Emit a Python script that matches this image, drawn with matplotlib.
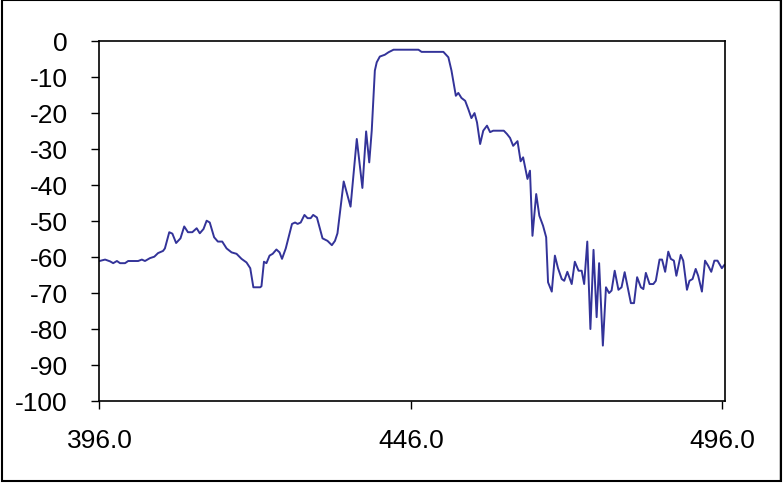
import matplotlib
matplotlib.use('Agg')
import matplotlib.pyplot as plt
from matplotlib.patches import Rectangle

wavelength = [
    396.0, 396.9, 397.7, 398.2, 398.8, 399.3, 400.1, 400.6, 402.2, 402.8,
    403.3, 404.1, 404.8, 405.4, 406.2, 406.5, 407.2, 407.7, 408.3, 409.0,
    409.6, 410.2, 410.9, 411.6, 412.1, 412.7, 413.2, 413.7, 414.4, 415.0,
    415.7, 416.4, 417.2, 418.0, 418.8, 419.6, 420.2, 420.7, 421.8, 422.0,
    422.4, 422.8, 423.3, 423.8, 424.4, 424.9, 425.3, 425.9, 426.9, 427.4,
    427.8, 428.3, 428.9, 429.4, 429.9, 430.3, 430.9, 431.8, 432.6, 433.3,
    433.8, 434.2, 435.2, 436.3, 437.3, 438.2, 438.8, 439.3, 439.7, 440.2,
    440.5, 441.0, 441.8, 442.4, 443.2, 447.2, 447.7, 451.2, 452.0, 452.5,
    453.2, 453.6, 454.1, 454.7, 455.2, 455.7, 456.2, 456.6, 457.1, 457.6,
    458.2, 458.7, 459.2, 460.9, 461.4, 461.9, 462.4, 463.1, 463.6, 464.0,
    464.7, 465.1, 465.5, 466.1, 466.6, 467.2, 467.7, 468.0, 468.6, 469.1,
    469.6, 470.2, 470.6, 471.1, 471.8, 472.3, 472.9, 473.4, 473.8, 474.3,
    474.8, 475.3, 475.8, 476.2, 476.8, 477.3, 477.8, 478.2, 478.7, 479.3,
    479.8, 480.3, 481.3, 481.8, 482.3, 482.9, 483.3, 483.7, 484.3, 484.9,
    485.3, 485.9, 486.3, 486.8, 487.3, 487.7, 488.2, 488.6, 489.3, 489.7,
    490.3, 490.7, 491.2, 491.7, 492.1, 492.7, 493.2, 493.7, 494.2, 494.7,
    495.2, 495.9, 496.3,
]

level_db = [
    -61.2, -60.8, -61.3, -61.8, -61.2, -61.8, -61.8, -61.2, -61.2, -60.8,
    -61.2, -60.4, -60.0, -59.0, -58.4, -57.7, -53.2, -53.6, -56.2, -54.9,
    -51.6, -53.2, -53.2, -52.1, -53.5, -52.3, -50.0, -50.5, -54.6, -55.8,
    -55.8, -57.7, -58.8, -59.2, -60.6, -61.6, -63.2, -68.5, -68.5, -68.2,
    -61.4, -61.8, -59.7, -59.2, -58.0, -58.8, -60.6, -57.7, -50.9, -50.5,
    -50.9, -50.5, -48.4, -49.3, -49.3, -48.4, -49.1, -54.9, -55.6, -56.8,
    -55.6, -53.5, -39.1, -46.1, -27.3, -40.9, -25.2, -33.8, -25.0, -8.3,
    -6.0, -4.4, -3.9, -3.2, -2.5, -2.5, -3.1, -3.1, -4.6, -8.3,
    -15.3, -14.5, -15.9, -16.7, -19.0, -21.5, -20.1, -22.7, -28.7, -25.0,
    -23.6, -25.4, -25.0, -25.0, -25.9, -27.0, -29.2, -27.9, -33.5, -32.4,
    -38.4, -36.1, -54.2, -42.6, -48.6, -51.4, -54.6, -67.1, -69.7, -59.7,
    -63.2, -66.2, -66.7, -64.2, -67.6, -61.4, -63.9, -63.9, -67.6, -55.8,
    -80.1, -58.1, -76.8, -61.8, -84.7, -68.5, -70.1, -69.4, -63.9, -69.2,
    -68.5, -64.3, -72.9, -72.9, -65.7, -68.5, -69.0, -64.5, -67.6, -67.6,
    -66.7, -60.8, -60.8, -64.2, -58.6, -60.6, -61.1, -65.3, -59.5, -61.1,
    -69.2, -66.7, -66.2, -63.4, -65.3, -69.7, -61.1, -62.5, -64.2, -61.1,
    -61.1, -63.2, -62.3,
]

x_ticks = [396.0, 446.0, 496.0]
y_ticks = list(range(-100, 1, 10))

plt.rcParams['font.family'] = ['Liberation Sans Narrow', 'Liberation Sans', 'DejaVu Sans']

fig = plt.figure(figsize=(7.84, 4.85), dpi=100)
ax = fig.add_axes([0.1269, 0.1718, 0.7978, 0.7422])

ax.plot(wavelength, level_db, color='#333399', linewidth=1.4)

ax.set_xlim(396.0, 496.4)
ax.set_ylim(-100, 0)
ax.set_xticks(x_ticks)
ax.set_xticklabels(['%.1f' % t for t in x_ticks])
ax.set_yticks(y_ticks)
ax.set_yticklabels([str(t) for t in y_ticks])

ax.tick_params(axis='both', direction='out', length=6, width=1, labelsize=19, colors='black')
ax.tick_params(axis='x', pad=14)
ax.tick_params(axis='y', pad=17)
for s in ax.spines.values():
    s.set_linewidth(1.2)

# outer frame round the whole picture
fig.patches.append(Rectangle((0.0026, 0.0072), 0.9936, 0.9898, transform=fig.transFigure,
                             fill=False, edgecolor='black', linewidth=1.5))
fig.patches.append(Rectangle((0.9949, 0.0072), 0.0, 0.9898, transform=fig.transFigure,
                             fill=False, edgecolor='black', linewidth=1.0))

fig.savefig('out.png', dpi=100)
